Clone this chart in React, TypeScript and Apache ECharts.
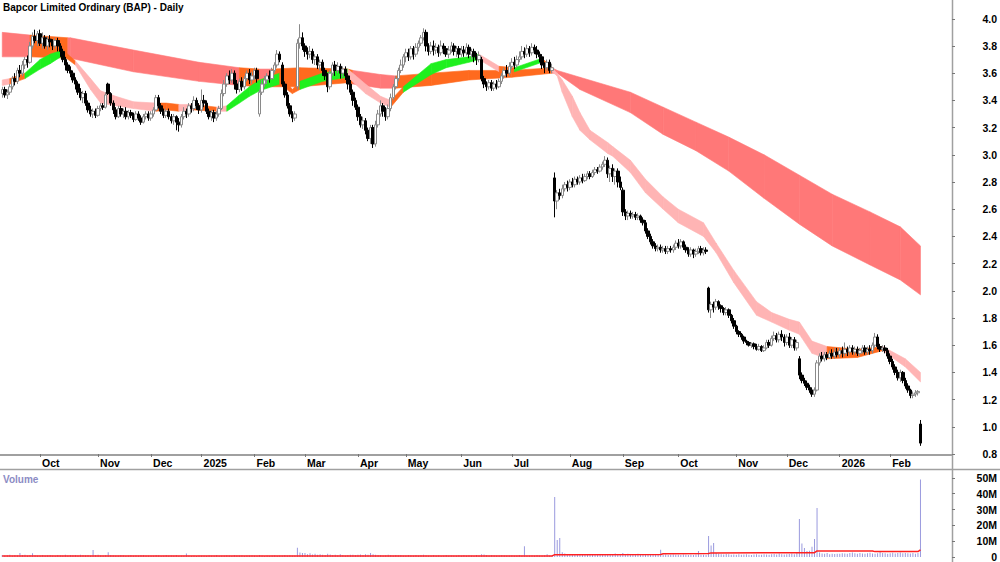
import React, { useEffect, useRef } from 'react';
import * as echarts from 'echarts';

const TITLE = 'Bapcor Limited Ordinary (BAP) - Daily';
const FONT = '"Liberation Sans", Arial, sans-serif';

// month tick labels and the bar index where each month starts
const monthLabels = ['Oct', 'Nov', 'Dec', '2025', 'Feb', 'Mar', 'Apr', 'May', 'Jun', 'Jul', 'Aug', 'Sep', 'Oct', 'Nov', 'Dec', '2026', 'Feb'];
const monthStarts = [15, 38, 59, 79, 100, 120, 141, 160, 182, 202, 225, 246, 268, 291, 311, 332, 352];

// daily bars [open, close, low, high]
const sep24 = [[3.45,3.48,3.42,3.50],[3.48,3.44,3.42,3.50],[3.44,3.46,3.41,3.48],[3.46,3.50,3.44,3.52],[3.50,3.56,3.48,3.58],[3.56,3.54,3.51,3.60],[3.54,3.62,3.52,3.64],[3.62,3.60,3.57,3.66],[3.60,3.66,3.58,3.69],[3.66,3.70,3.63,3.72],[3.70,3.68,3.64,3.73],[3.68,3.80,3.67,3.83],[3.80,3.87,3.78,3.90],[3.87,3.84,3.82,3.92],[3.84,3.89,3.80,3.91]];
const oct24 = [[3.89,3.82,3.80,3.92],[3.82,3.86,3.78,3.90],[3.86,3.80,3.78,3.88],[3.80,3.85,3.77,3.87],[3.85,3.83,3.79,3.88],[3.83,3.80,3.77,3.85],[3.80,3.84,3.78,3.86],[3.84,3.80,3.76,3.86],[3.80,3.76,3.72,3.82],[3.76,3.70,3.68,3.78],[3.70,3.66,3.62,3.72],[3.66,3.62,3.60,3.68],[3.62,3.60,3.57,3.65],[3.60,3.55,3.53,3.62],[3.55,3.52,3.48,3.57],[3.52,3.46,3.44,3.54],[3.46,3.42,3.40,3.49],[3.42,3.45,3.38,3.47],[3.45,3.38,3.36,3.47],[3.38,3.33,3.31,3.40],[3.33,3.30,3.28,3.36],[3.30,3.32,3.27,3.34],[3.32,3.29,3.27,3.34]];
const nov24 = [[3.29,3.34,3.28,3.36],[3.34,3.36,3.32,3.38],[3.36,3.35,3.33,3.38],[3.35,3.44,3.34,3.46],[3.52,3.45,3.44,3.53],[3.45,3.38,3.36,3.46],[3.38,3.33,3.30,3.40],[3.33,3.28,3.26,3.35],[3.28,3.34,3.27,3.36],[3.34,3.30,3.28,3.36],[3.30,3.32,3.27,3.34],[3.32,3.28,3.26,3.35],[3.28,3.31,3.26,3.33],[3.31,3.29,3.27,3.33],[3.29,3.26,3.24,3.31],[3.26,3.30,3.25,3.32],[3.30,3.27,3.25,3.32],[3.27,3.24,3.22,3.29],[3.24,3.28,3.23,3.30],[3.28,3.30,3.26,3.32],[3.30,3.27,3.25,3.32]];
const dec24 = [[3.27,3.30,3.25,3.32],[3.30,3.33,3.28,3.35],[3.33,3.42,3.32,3.44],[3.42,3.36,3.34,3.44],[3.36,3.32,3.30,3.38],[3.32,3.29,3.27,3.34],[3.29,3.32,3.27,3.34],[3.32,3.28,3.26,3.34],[3.28,3.25,3.23,3.30],[3.25,3.28,3.22,3.30],[3.28,3.24,3.18,3.29],[3.24,3.22,3.17,3.27],[3.22,3.28,3.20,3.30],[3.28,3.32,3.26,3.35],[3.32,3.30,3.27,3.34],[3.30,3.36,3.28,3.38],[3.36,3.34,3.31,3.38],[3.34,3.40,3.32,3.43],[3.40,3.36,3.33,3.42],[3.36,3.33,3.30,3.38]];
const jan25 = [[3.33,3.40,3.31,3.48],[3.40,3.38,3.35,3.44],[3.38,3.32,3.30,3.40],[3.32,3.28,3.26,3.34],[3.28,3.31,3.25,3.33],[3.31,3.27,3.24,3.33],[3.27,3.30,3.25,3.32],[3.30,3.34,3.28,3.36],[3.34,3.45,3.33,3.48],[3.45,3.52,3.43,3.55],[3.52,3.58,3.50,3.60],[3.58,3.55,3.52,3.62],[3.55,3.60,3.53,3.63],[3.60,3.52,3.48,3.62],[3.52,3.48,3.45,3.55],[3.48,3.54,3.46,3.56],[3.54,3.50,3.47,3.57],[3.50,3.56,3.48,3.58],[3.56,3.60,3.54,3.62],[3.60,3.55,3.52,3.63],[3.55,3.58,3.52,3.61]];
const feb25 = [[3.58,3.62,3.55,3.64],[3.62,3.56,3.53,3.64],[3.30,3.46,3.28,3.48],[3.46,3.52,3.44,3.55],[3.52,3.55,3.50,3.58],[3.55,3.58,3.52,3.60],[3.58,3.56,3.53,3.62],[3.56,3.62,3.55,3.64],[3.62,3.66,3.60,3.68],[3.66,3.74,3.64,3.77],[3.74,3.70,3.68,3.76],[3.66,3.52,3.50,3.68],[3.52,3.44,3.42,3.54],[3.44,3.36,3.34,3.46],[3.36,3.30,3.28,3.38],[3.30,3.27,3.24,3.32],[3.27,3.30,3.25,3.32],[3.50,3.82,3.48,3.85],[3.82,3.86,3.78,3.96],[3.86,3.80,3.77,3.90]];
const mar25 = [[3.80,3.76,3.72,3.82],[3.76,3.74,3.70,3.79],[3.74,3.76,3.71,3.80],[3.76,3.70,3.67,3.78],[3.70,3.72,3.66,3.74],[3.72,3.66,3.63,3.74],[3.66,3.68,3.62,3.70],[3.68,3.62,3.58,3.70],[3.62,3.58,3.55,3.64],[3.58,3.50,3.46,3.60],[3.50,3.60,3.48,3.62],[3.60,3.66,3.58,3.68],[3.66,3.62,3.58,3.69],[3.62,3.65,3.60,3.68],[3.65,3.60,3.56,3.67],[3.60,3.63,3.57,3.65],[3.63,3.58,3.55,3.65],[3.58,3.52,3.48,3.60],[3.52,3.46,3.44,3.55],[3.46,3.40,3.36,3.48],[3.40,3.35,3.33,3.42]];
const apr25 = [[3.35,3.28,3.25,3.37],[3.28,3.22,3.20,3.30],[3.22,3.25,3.19,3.28],[3.25,3.18,3.15,3.27],[3.18,3.12,3.10,3.20],[3.12,3.20,3.08,3.22],[3.20,3.08,3.05,3.22],[3.08,3.22,3.06,3.25],[3.22,3.30,3.20,3.33],[3.30,3.36,3.28,3.40],[3.36,3.32,3.28,3.38],[3.32,3.28,3.25,3.35],[3.28,3.34,3.26,3.37],[3.34,3.42,3.32,3.45],[3.42,3.50,3.40,3.52],[3.50,3.56,3.48,3.58],[3.56,3.62,3.54,3.64],[3.62,3.66,3.60,3.70],[3.66,3.72,3.64,3.74]];
const may25 = [[3.72,3.75,3.68,3.78],[3.75,3.72,3.69,3.78],[3.72,3.78,3.70,3.80],[3.78,3.74,3.70,3.80],[3.74,3.79,3.72,3.82],[3.79,3.82,3.76,3.84],[3.82,3.86,3.80,3.88],[3.86,3.90,3.84,3.93],[3.90,3.80,3.76,3.92],[3.80,3.76,3.73,3.82],[3.76,3.80,3.74,3.83],[3.80,3.77,3.73,3.84],[3.77,3.79,3.74,3.82],[3.79,3.75,3.72,3.81],[3.75,3.80,3.73,3.84],[3.80,3.78,3.74,3.82],[3.78,3.74,3.72,3.80],[3.74,3.77,3.71,3.80],[3.77,3.80,3.75,3.83],[3.80,3.76,3.73,3.82],[3.76,3.78,3.72,3.80],[3.78,3.74,3.71,3.80]];
const jun25 = [[3.74,3.77,3.72,3.80],[3.77,3.75,3.72,3.80],[3.75,3.79,3.73,3.82],[3.79,3.74,3.71,3.81],[3.74,3.76,3.70,3.78],[3.76,3.72,3.68,3.78],[3.72,3.70,3.66,3.75],[3.70,3.73,3.68,3.76],[3.70,3.56,3.54,3.72],[3.56,3.52,3.49,3.58],[3.52,3.50,3.47,3.54],[3.50,3.53,3.48,3.55],[3.53,3.49,3.47,3.55],[3.49,3.52,3.47,3.54],[3.52,3.50,3.48,3.55],[3.50,3.54,3.49,3.56],[3.54,3.58,3.52,3.60],[3.58,3.62,3.56,3.64],[3.62,3.60,3.57,3.66],[3.60,3.65,3.58,3.68]];
const jul25 = [[3.65,3.68,3.63,3.71],[3.68,3.66,3.63,3.72],[3.66,3.70,3.64,3.73],[3.70,3.72,3.68,3.76],[3.72,3.76,3.70,3.80],[3.76,3.74,3.71,3.79],[3.74,3.78,3.72,3.81],[3.78,3.75,3.72,3.80],[3.75,3.79,3.73,3.82],[3.79,3.77,3.74,3.81],[3.77,3.74,3.71,3.80],[3.74,3.72,3.68,3.76],[3.72,3.66,3.63,3.74],[3.66,3.64,3.60,3.68],[3.64,3.68,3.62,3.70],[3.68,3.62,3.60,3.70],[3.62,3.64,3.60,3.67],[2.83,2.66,2.54,2.87],[2.66,2.72,2.60,2.74],[2.72,2.70,2.67,2.75],[2.70,2.75,2.68,2.78],[2.75,2.78,2.73,2.80],[2.78,2.76,2.73,2.81]];
const aug25 = [[2.76,2.80,2.74,2.82],[2.80,2.78,2.76,2.83],[2.78,2.82,2.76,2.84],[2.82,2.80,2.78,2.84],[2.80,2.83,2.78,2.85],[2.83,2.81,2.79,2.86],[2.81,2.84,2.80,2.86],[2.84,2.86,2.82,2.88],[2.86,2.84,2.82,2.88],[2.84,2.87,2.83,2.89],[2.87,2.89,2.85,2.91],[2.89,2.88,2.86,2.91],[2.88,2.91,2.87,2.93],[2.91,2.93,2.89,2.95],[2.93,2.96,2.91,2.99],[2.96,2.86,2.83,2.98],[2.86,2.90,2.80,2.92],[2.90,2.84,2.80,2.93],[2.84,2.88,2.78,2.90],[2.88,2.80,2.76,2.90],[2.80,2.76,2.74,2.84]];
const sep25 = [[2.74,2.58,2.55,2.76],[2.58,2.55,2.52,2.60],[2.55,2.57,2.52,2.59],[2.57,2.55,2.53,2.59],[2.55,2.56,2.53,2.58],[2.56,2.54,2.52,2.58],[2.54,2.55,2.52,2.57],[2.55,2.52,2.50,2.56],[2.52,2.50,2.48,2.54],[2.50,2.44,2.42,2.52],[2.44,2.40,2.38,2.46],[2.40,2.36,2.34,2.42],[2.36,2.33,2.31,2.38],[2.33,2.31,2.29,2.35],[2.31,2.32,2.29,2.34],[2.32,2.30,2.28,2.34],[2.30,2.31,2.28,2.33],[2.31,2.29,2.27,2.33],[2.29,2.31,2.27,2.33],[2.31,2.30,2.28,2.33],[2.30,2.32,2.28,2.34],[2.32,2.35,2.30,2.37]];
const oct25 = [[2.35,2.33,2.31,2.38],[2.33,2.36,2.31,2.38],[2.36,2.32,2.30,2.37],[2.32,2.30,2.28,2.34],[2.30,2.27,2.25,2.32],[2.27,2.30,2.25,2.32],[2.30,2.27,2.24,2.31],[2.27,2.29,2.25,2.31],[2.29,2.31,2.27,2.33],[2.31,2.28,2.26,2.33],[2.28,2.30,2.26,2.32],[2.30,2.29,2.27,2.32],[2.02,1.86,1.84,2.03],[1.86,1.90,1.80,1.92],[1.90,1.88,1.84,1.92],[1.88,1.92,1.86,1.94],[1.92,1.89,1.86,1.93],[1.89,1.87,1.84,1.90],[1.87,1.84,1.82,1.88],[1.84,1.86,1.82,1.88],[1.86,1.82,1.80,1.87],[1.82,1.78,1.76,1.83],[1.78,1.74,1.72,1.80]];
const nov25 = [[1.74,1.70,1.68,1.75],[1.70,1.68,1.66,1.71],[1.68,1.66,1.64,1.69],[1.66,1.63,1.61,1.67],[1.63,1.62,1.60,1.64],[1.62,1.60,1.59,1.63],[1.60,1.61,1.58,1.62],[1.61,1.59,1.57,1.62],[1.59,1.57,1.56,1.61],[1.57,1.59,1.56,1.61],[1.59,1.56,1.55,1.60],[1.56,1.58,1.55,1.60],[1.58,1.62,1.57,1.64],[1.62,1.60,1.58,1.64],[1.60,1.65,1.59,1.67],[1.65,1.67,1.63,1.70],[1.67,1.64,1.62,1.69],[1.64,1.68,1.62,1.70],[1.68,1.66,1.63,1.71],[1.66,1.62,1.59,1.68]];
const dec25 = [[1.62,1.66,1.60,1.68],[1.66,1.60,1.58,1.69],[1.60,1.64,1.58,1.66],[1.64,1.58,1.56,1.66],[1.58,1.62,1.56,1.64],[1.50,1.38,1.35,1.52],[1.38,1.34,1.32,1.40],[1.34,1.32,1.30,1.36],[1.32,1.29,1.27,1.34],[1.29,1.27,1.25,1.31],[1.27,1.24,1.22,1.29],[1.24,1.27,1.22,1.29],[1.27,1.47,1.26,1.49],[1.47,1.52,1.45,1.54],[1.52,1.50,1.48,1.55],[1.50,1.53,1.48,1.55],[1.53,1.51,1.49,1.55],[1.51,1.54,1.50,1.56],[1.54,1.52,1.50,1.57],[1.52,1.55,1.50,1.58],[1.55,1.53,1.51,1.58]];
const jan26 = [[1.53,1.56,1.51,1.58],[1.56,1.54,1.51,1.59],[1.54,1.57,1.52,1.62],[1.57,1.55,1.52,1.59],[1.55,1.58,1.53,1.60],[1.58,1.55,1.53,1.60],[1.55,1.57,1.53,1.59],[1.57,1.54,1.52,1.59],[1.54,1.56,1.52,1.58],[1.56,1.58,1.54,1.60],[1.58,1.55,1.53,1.60],[1.55,1.57,1.53,1.59],[1.57,1.56,1.53,1.60],[1.56,1.60,1.54,1.62],[1.60,1.66,1.58,1.69],[1.66,1.59,1.57,1.68],[1.59,1.57,1.55,1.61],[1.57,1.58,1.55,1.60],[1.58,1.56,1.54,1.60],[1.56,1.52,1.50,1.58]];
const feb26 = [[1.52,1.48,1.46,1.54],[1.48,1.44,1.42,1.50],[1.44,1.40,1.38,1.46],[1.40,1.36,1.34,1.42],[1.36,1.40,1.33,1.42],[1.40,1.34,1.32,1.41],[1.34,1.30,1.28,1.36],[1.30,1.27,1.25,1.32],[1.27,1.23,1.21,1.28],[1.23,1.24,1.21,1.26],[1.24,1.25,1.22,1.27],[1.25,1.26,1.23,1.27],[1.02,0.88,0.86,1.05]];

// daily volume, millions
const volSep24 = [1.2,0.9,1.1,1.4,1.0,1.3,1.1,2.6,1.2,1.5,1.0,1.3,2.4,1.1,0.9];
const volOct24 = [1.0,1.2,0.9,1.1,1.3,1.0,0.8,1.2,1.1,0.9,1.4,1.0,1.2,1.1,1.3,1.0,1.5,1.2,1.1,1.3,1.0,4.4,1.2];
const volNov24 = [1.4,1.1,1.0,1.2,3.0,1.3,1.1,0.9,1.0,1.2,1.1,0.8,1.0,1.2,0.9,1.1,1.0,1.3,1.2,0.9,1.0];
const volDec24 = [1.0,0.9,1.2,1.1,0.8,1.0,1.3,0.9,1.1,1.0,1.2,0.8,1.0,0.9,2.2,1.0,0.8,0.9,0.7,1.0];
const volJan25 = [0.9,1.0,0.8,1.1,0.9,1.0,1.2,0.8,1.0,0.9,1.1,1.0,0.8,1.2,0.9,1.0,1.1,0.8,1.0,0.9,1.1];
const volFeb25 = [1.0,0.8,1.2,0.9,0.7,1.0,0.8,0.9,1.1,0.8,1.0,0.9,1.2,1.0,1.1,0.9,1.0,5.8,2.8,2.5];
const volMar25 = [2.6,1.8,2.4,1.6,2.0,1.4,1.8,1.5,1.3,2.0,1.6,1.2,1.4,1.1,1.8,1.3,1.0,1.2,1.4,1.5,1.2];
const volApr25 = [1.4,1.6,1.3,1.8,1.5,2.6,1.8,1.4,1.2,1.3,1.0,1.1,1.4,1.2,1.0,1.3,1.1,1.2,1.0];
const volMay25 = [1.0,1.2,1.1,0.9,1.3,1.0,1.2,1.5,1.1,1.0,0.9,1.2,1.0,1.1,0.8,1.0,1.2,0.9,1.1,1.0,0.9,1.3];
const volJun25 = [1.0,1.2,0.9,1.1,1.0,0.8,1.2,1.0,1.8,1.6,1.2,1.0,1.3,1.1,0.9,1.0,1.2,1.1,1.0,0.9];
const volJul25 = [1.1,1.0,0.9,1.2,1.0,6.8,1.0,0.9,1.1,1.0,1.2,0.9,1.0,1.1,1.8,1.0,0.9,38,10.7,12,3.0,2.2,1.8];
const volAug25 = [1.6,1.8,1.5,1.4,1.7,1.3,1.5,1.2,1.6,1.4,1.3,1.5,1.2,1.4,1.6,1.3,1.5,1.8,2.2,1.6,1.9];
const volSep25 = [2.5,1.8,2.0,1.6,1.5,1.7,2.0,1.4,1.6,1.8,1.5,1.3,1.6,1.4,1.7,4.6,1.5,1.6,1.3,1.4,1.6,1.5];
const volOct25 = [1.5,1.3,1.6,1.4,1.2,1.5,1.3,1.6,3.8,1.4,1.5,1.3,13.3,7.2,8.9,2.5,2.0,1.8,1.6,1.9,1.7,1.5,1.6];
const volNov25 = [1.5,1.7,1.4,1.6,1.8,1.5,1.3,1.6,1.7,1.5,1.4,1.8,1.6,1.5,1.7,1.9,1.6,2.2,1.8,1.6];
const volDec25 = [1.7,1.9,2.2,1.8,2.5,24,8.5,5.7,3.8,4.0,6.5,11.4,31,2.8,2.2,2.0,2.5,1.8,2.1,1.9,2.0];
const volJan26 = [2.0,2.4,2.2,2.1,2.6,2.8,2.3,2.0,2.5,2.2,2.1,2.4,2.7,2.2,2.0,2.4,3.2,2.6,2.3,2.1];
const volFeb26 = [2.4,2.7,2.2,2.5,2.8,2.3,2.6,2.4,2.2,2.5,2.1,2.6,49];

// volume average line (bar index, millions)
const volMaIdx = [0, 218, 219, 261, 262, 280, 281, 322, 323, 345, 346, 363, 364];
const volMaVal = [0.7, 0.7, 1.5, 1.6, 2.1, 2.2, 2.6, 2.7, 3.8, 3.8, 3.4, 3.4, 4.5];

// short-term moving-average ribbon: key bar index, upper and lower edge, state of each stretch
const shortIdx = [0,3,9,15,19,24,29,35,39,45,52,61,65,70,76,85,89,94,98,102,110,115,118,127,137,144,150,154,159,170,176,185,189,197,203,214,218,220,222,226,229,233,240,242,249,255,262,268,278,283,290,299,305,312,316,321,327,339,349,358,364];
const shortTop = [3.55,3.56,3.60,3.70,3.74,3.77,3.69,3.56,3.47,3.43,3.39,3.38,3.38,3.37,3.37,3.35,3.36,3.44,3.50,3.55,3.60,3.48,3.54,3.60,3.63,3.52,3.43,3.40,3.50,3.67,3.70,3.72,3.74,3.65,3.64,3.71,3.64,3.60,3.55,3.43,3.31,3.18,3.09,3.06,2.96,2.82,2.69,2.60,2.50,2.35,2.15,1.92,1.84,1.79,1.77,1.63,1.59,1.57,1.59,1.50,1.40];
const shortBot = [3.51,3.52,3.56,3.63,3.67,3.73,3.66,3.48,3.38,3.36,3.34,3.32,3.33,3.32,3.33,3.32,3.32,3.38,3.43,3.47,3.52,3.45,3.48,3.54,3.57,3.45,3.38,3.35,3.46,3.59,3.64,3.68,3.70,3.61,3.61,3.68,3.61,3.58,3.46,3.28,3.18,3.11,3.01,2.99,2.87,2.72,2.60,2.50,2.40,2.28,2.06,1.82,1.77,1.71,1.68,1.54,1.50,1.51,1.56,1.44,1.33];
const shortState = ['p','o','g','g','g','o','p','p','p','p','p','o','o','p','o','p','g','g','g','g','o','o','g','g','p','p','p','o','g','g','g','g','p','o','g','o','p','p','p','p','p','p','p','p','p','p','p','p','p','p','p','p','p','p','p','p','o','o','p','p'];

// long-term moving-average ribbon
const longIdx = [0,11,26,27,52,78,94,102,107,118,137,139,150,156,170,185,202,218,220,229,249,262,275,288,302,316,329,344,356,364];
const longTop = [3.90,3.88,3.86,3.86,3.77,3.68,3.64,3.63,3.63,3.64,3.63,3.62,3.59,3.58,3.60,3.62,3.62,3.64,3.62,3.57,3.46,3.35,3.24,3.13,3.00,2.85,2.71,2.58,2.47,2.33];
const longBot = [3.72,3.72,3.71,3.71,3.61,3.54,3.51,3.50,3.50,3.50,3.53,3.52,3.49,3.49,3.51,3.55,3.57,3.60,3.60,3.48,3.31,3.15,3.03,2.88,2.68,2.49,2.33,2.19,2.08,1.97];
const longState = ['r','o','r','r','r','r','o','r','o','o','o','r','r','o','o','o','o','r','r','r','r','r','r','r','r','r','r','r','r'];

const bandColors: Record<string, string> = { r: '#FF7878', o: '#FF6A1E', g: '#1EF01E', p: '#FFB4B4' };

const bars = [...sep24, ...oct24, ...nov24, ...dec24, ...jan25, ...feb25, ...mar25, ...apr25, ...may25, ...jun25, ...jul25, ...aug25, ...sep25, ...oct25, ...nov25, ...dec25, ...jan26, ...feb26];
const volume = [...volSep24, ...volOct24, ...volNov24, ...volDec24, ...volJan25, ...volFeb25, ...volMar25, ...volApr25, ...volMay25, ...volJun25, ...volJul25, ...volAug25, ...volSep25, ...volOct25, ...volNov25, ...volDec25, ...volJan26, ...volFeb26];

const SLOTS = 377; // trading-day slots along the axis (bars + empty space on the right)
const categories = Array.from({ length: SLOTS }, (_, i) => String(i));

function bandSeries(idx: number[], top: number[], bot: number[], state: string[], z: number) {
  return {
    type: 'custom',
    xAxisIndex: 0,
    yAxisIndex: 0,
    z,
    silent: true,
    clip: true,
    data: state.map((_, k) => [idx[k], top[k], k]),
    renderItem: (_params: any, api: any) => {
      const k = api.value(2);
      const c = bandColors[state[k]];
      const pts = [
        api.coord([idx[k], top[k]]),
        api.coord([idx[k + 1], top[k + 1]]),
        api.coord([idx[k + 1], bot[k + 1]]),
        api.coord([idx[k], bot[k]]),
      ];
      return { type: 'polygon', shape: { points: pts }, style: { fill: c, stroke: c, lineWidth: 0.6 } };
    },
  };
}

export default function App() {
  const ref = useRef<HTMLDivElement>(null);
  useEffect(() => {
    if (!ref.current) return;
    const chart = echarts.init(ref.current, null, { renderer: 'svg' });
    const labelStyle = { fontFamily: FONT, fontWeight: 'bold' as const, fontSize: 10.5, color: '#000' };
    const startSet = new Set(monthStarts);
    chart.setOption({
      animation: false,
      backgroundColor: '#fff',
      grid: [
        { left: 1, right: 48, top: 0, height: 454, outerBoundsMode: 'none', containLabel: false },
        { left: 1, right: 48, top: 470, height: 87, outerBoundsMode: 'none', containLabel: false },
      ],
      xAxis: [
        {
          type: 'category',
          gridIndex: 0,
          data: categories,
          boundaryGap: true,
          axisLine: { show: false },
          axisTick: {
            show: true,
            alignWithLabel: true,
            interval: (i: number) => startSet.has(i),
            length: 3,
            lineStyle: { color: '#777', width: 1 },
          },
          axisLabel: {
            ...labelStyle,
            interval: (i: number) => startSet.has(i),
            formatter: (_v: string, i: number) => {
              const k = monthStarts.indexOf(i);
              return k >= 0 ? monthLabels[k] : '';
            },
            align: 'left',
            margin: 3,
            padding: [0, 0, 0, 2],
          },
          splitLine: { show: false },
        },
        {
          type: 'category',
          gridIndex: 1,
          data: categories,
          boundaryGap: true,
          axisLine: { show: false },
          axisTick: { show: false },
          axisLabel: { show: false },
          splitLine: { show: false },
        },
      ],
      yAxis: [
        {
          type: 'value',
          gridIndex: 0,
          position: 'right',
          min: 0.8,
          max: 4.138,
          interval: 0.2,
          axisLine: { show: false },
          axisTick: { show: true, length: 3, lineStyle: { color: '#777' } },
          axisLabel: {
            ...labelStyle,
            align: 'right',
            margin: 45,
            showMaxLabel: false,
            formatter: (v: number) => v.toFixed(1),
          },
          splitLine: { show: false },
        },
        {
          type: 'value',
          gridIndex: 1,
          position: 'right',
          min: 0,
          max: 55,
          interval: 10,
          axisLine: { show: false },
          axisTick: { show: true, length: 3, lineStyle: { color: '#777' } },
          axisLabel: {
            ...labelStyle,
            align: 'right',
            margin: 45,
            showMaxLabel: false,
            formatter: (v: number) => (v === 0 ? '0' : v + 'M'),
          },
          splitLine: { show: false },
        },
      ],
      series: [
        bandSeries(longIdx, longTop, longBot, longState, 1),
        bandSeries(shortIdx, shortTop, shortBot, shortState, 2),
        {
          type: 'candlestick',
          xAxisIndex: 0,
          yAxisIndex: 0,
          z: 5,
          barWidth: 3,
          silent: true,
          data: bars,
          itemStyle: {
            color: '#FFFFFF',
            color0: '#000000',
            borderColor: '#8A8A8A',
            borderColor0: '#000000',
            borderWidth: 1,
          },
        },
        {
          type: 'bar',
          xAxisIndex: 1,
          yAxisIndex: 1,
          barWidth: 1,
          silent: true,
          data: volume,
          itemStyle: { color: '#9A9ADE' },
        },
        {
          type: 'line',
          xAxisIndex: 1,
          yAxisIndex: 1,
          z: 4,
          silent: true,
          symbol: 'none',
          data: volMaIdx.map((i, k) => [i, volMaVal[k]]),
          lineStyle: { color: '#FF2020', width: 1.5 },
        },
      ],
      graphic: [
        {
          type: 'text',
          left: 3,
          top: 2,
          style: { text: TITLE, font: `bold 10px ${FONT}`, fill: '#000' },
        },
        {
          type: 'text',
          left: 3,
          top: 474,
          style: { text: 'Volume', font: `bold 10px ${FONT}`, fill: '#8C8CC4' },
        },
        { type: 'line', shape: { x1: 0, y1: 455, x2: 952, y2: 455 }, style: { stroke: '#A0A0A0', lineWidth: 2 } },
        { type: 'line', shape: { x1: 0, y1: 469.5, x2: 1000, y2: 469.5 }, style: { stroke: '#A0A0A0', lineWidth: 1.5 } },
        { type: 'line', shape: { x1: 952.5, y1: 0, x2: 952.5, y2: 562 }, style: { stroke: '#A0A0A0', lineWidth: 1.5 } },
      ],
    });
    return () => chart.dispose();
  }, []);
  return (
    <div
      ref={ref}
      style={{ position: 'fixed', left: 0, top: 0, width: 1000, height: 562, background: '#fff' }}
    />
  );
}
